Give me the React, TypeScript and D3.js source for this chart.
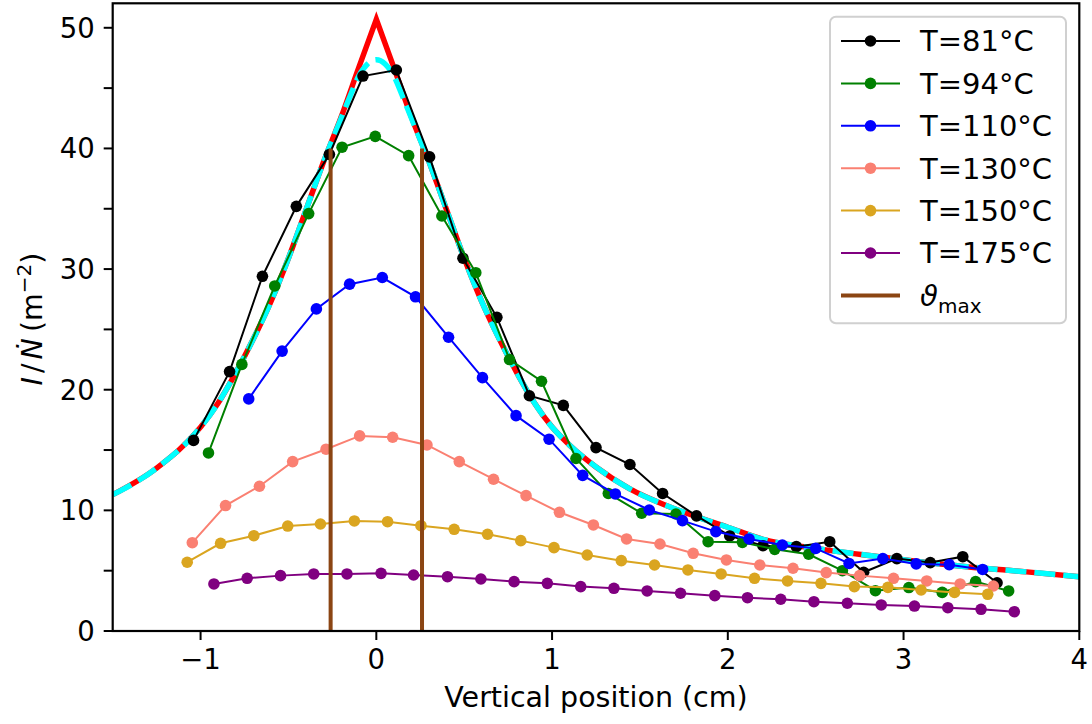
import React from 'react';
import * as d3 from 'd3';

const xTicks = [-1, 0, 1, 2, 3, 4];
const yTicks = [0, 5, 10, 15, 20, 25, 30, 35, 40, 45, 50];
const yTickLabels = [0, 10, 20, 30, 40, 50];

const x81 = [-1.04, -0.835, -0.648, -0.455, -0.267, -0.076, 0.114, 0.303, 0.493, 0.686, 0.871, 1.064, 1.25, 1.443, 1.629, 1.822, 2.011, 2.2, 2.39, 2.58, 2.773, 2.962, 3.152, 3.337, 3.532];
const y81 = [15.8, 21.5, 29.4, 35.2, 39.5, 46.0, 46.5, 39.3, 30.9, 26.0, 19.5, 18.7, 15.2, 13.8, 11.4, 9.54, 7.88, 7.07, 6.99, 7.4, 4.87, 6.0, 5.67, 6.16, 4.0];

const x94 = [-0.955, -0.765, -0.578, -0.385, -0.195, -0.006, 0.184, 0.373, 0.566, 0.758, 0.94, 1.136, 1.32, 1.51, 1.705, 1.888, 2.083, 2.267, 2.46, 2.652, 2.84, 3.03, 3.22, 3.41, 3.598];
const y94 = [14.76, 22.1, 28.6, 34.6, 40.1, 41.0, 39.4, 34.4, 29.7, 22.5, 20.7, 14.3, 11.4, 9.76, 9.7, 7.4, 7.35, 6.77, 6.36, 5.0, 3.34, 3.6, 3.2, 4.09, 3.32];

const x110 = [-0.726, -0.536, -0.341, -0.152, 0.034, 0.223, 0.411, 0.604, 0.795, 0.983, 1.174, 1.36, 1.553, 1.742, 1.932, 2.121, 2.31, 2.5, 2.69, 2.882, 3.072, 3.26, 3.45];
const y110 = [19.24, 23.2, 26.7, 28.75, 29.3, 27.7, 24.35, 21.0, 17.85, 15.9, 12.9, 11.36, 10.03, 9.15, 8.24, 7.63, 7.13, 6.85, 5.6, 6.0, 5.56, 5.5, 5.1];

const x130 = [-1.047, -0.858, -0.665, -0.476, -0.286, -0.095, 0.093, 0.288, 0.472, 0.667, 0.852, 1.042, 1.235, 1.424, 1.614, 1.803, 1.992, 2.182, 2.371, 2.56, 2.75, 2.943, 3.132, 3.322, 3.511];
const y130 = [7.32, 10.4, 12.0, 14.04, 15.07, 16.17, 16.06, 15.42, 14.04, 12.58, 11.22, 9.84, 8.79, 7.63, 7.21, 6.44, 5.89, 5.47, 5.2, 4.84, 4.59, 4.37, 4.15, 3.9, 3.73];

const x150 = [-1.076, -0.886, -0.697, -0.504, -0.318, -0.125, 0.064, 0.254, 0.443, 0.633, 0.822, 1.011, 1.2, 1.394, 1.583, 1.773, 1.962, 2.152, 2.34, 2.53, 2.72, 2.911, 3.1, 3.29, 3.479];
const y150 = [5.7, 7.27, 7.9, 8.7, 8.87, 9.12, 9.06, 8.73, 8.43, 8.02, 7.49, 6.91, 6.3, 5.83, 5.47, 5.06, 4.73, 4.37, 4.15, 3.95, 3.68, 3.62, 3.4, 3.2, 3.04];

const x175 = [-0.924, -0.735, -0.545, -0.356, -0.167, 0.027, 0.212, 0.405, 0.595, 0.784, 0.973, 1.163, 1.352, 1.541, 1.731, 1.926, 2.112, 2.301, 2.49, 2.68, 2.873, 3.062, 3.252, 3.441, 3.63];
const y175 = [3.9, 4.37, 4.59, 4.73, 4.73, 4.78, 4.64, 4.5, 4.31, 4.09, 3.95, 3.68, 3.54, 3.32, 3.13, 2.93, 2.76, 2.63, 2.43, 2.3, 2.16, 2.07, 1.93, 1.8, 1.6];

// red fitted model (cusp at 0): left and right halves
const redLeftX = [-1.5, -1.25, -1.0, -0.9, -0.8, -0.7, -0.6, -0.5, -0.4, -0.3, -0.2, -0.1, 0];
const redLeftY = [11.3, 13.5, 16.9, 18.9, 21.4, 24.2, 27.3, 30.9, 34.9, 38.9, 42.6, 46.7, 50.7];
const redRightX = [0, 0.1, 0.2, 0.3, 0.4, 0.5, 0.6, 0.7, 0.8, 0.9, 1.0, 1.1, 1.25, 1.44, 1.65, 1.82, 2.0, 2.2, 2.5, 2.86, 3.0, 3.36, 3.7, 4.0];
const redRightY = [50.7, 46.7, 42.6, 38.9, 34.9, 30.9, 27.3, 24.2, 21.4, 18.9, 16.9, 15.4, 13.6, 11.8, 10.4, 9.48, 8.6, 7.6, 6.85, 6.16, 5.9, 5.33, 4.9, 4.5];

// cyan dashed model (rounded top)
const cyanX = [-1.5, -1.25, -1.0, -0.9, -0.8, -0.7, -0.6, -0.5, -0.4, -0.3, -0.2, -0.15, -0.1, -0.05, 0, 0.05, 0.1, 0.15, 0.2, 0.3, 0.4, 0.5, 0.6, 0.7, 0.8, 0.9, 1.0, 1.1, 1.25, 1.44, 1.65, 1.82, 2.0, 2.2, 2.5, 2.86, 3.0, 3.36, 3.7, 4.0];
const cyanY = [11.3, 13.5, 16.9, 18.9, 21.4, 24.2, 27.3, 30.9, 34.9, 38.9, 42.5, 44.3, 46.0, 47.0, 47.35, 47.0, 46.0, 44.3, 42.5, 38.9, 34.9, 30.9, 27.3, 24.2, 21.4, 18.9, 16.9, 15.4, 13.6, 11.8, 10.4, 9.48, 8.6, 7.6, 6.85, 6.16, 5.9, 5.33, 4.9, 4.5];

const thetaMaxX = [-0.26, 0.26];
const thetaMaxTop = 40;

const seriesNames = ['T=81°C', 'T=94°C', 'T=110°C', 'T=130°C', 'T=150°C', 'T=175°C'];
const seriesColors = ['#000000', '#008000', '#0000ff', '#fa8072', '#daa520', '#800080'];
const seriesX = [x81, x94, x110, x130, x150, x175];
const seriesY = [y81, y94, y110, y130, y150, y175];

const FONT = 'DejaVu Sans, sans-serif';

export default function App() {
  const W = 1092, H = 724;
  const L = 112.7, R = 1079.3, T = 3.3, B = 631;
  const x = d3.scaleLinear().domain([-1.5, 4]).range([L, R]);
  const y = d3.scaleLinear().domain([0, 52.03]).range([B, T]);

  const lineM = d3.line<[number, number]>().x(d => x(d[0])).y(d => y(d[1])).curve(d3.curveMonotoneX);
  const lineL = d3.line<[number, number]>().x(d => x(d[0])).y(d => y(d[1]));

  const leftPath = lineM(redLeftX.map((v, i) => [v, redLeftY[i]] as [number, number])) || '';
  const rightPath = lineM(redRightX.map((v, i) => [v, redRightY[i]] as [number, number])) || '';
  const redPath = leftPath + 'L' + rightPath.slice(1);
  const cyanPath = lineM(cyanX.map((v, i) => [v, cyanY[i]] as [number, number])) || '';

  const legendY0 = 41, legendStep = 42.4;
  const fs = 27.5;
  const lfs = 29;
  const mr = 5.8;

  return (
    <svg width={W} height={H} style={{ position: 'absolute', left: 0, top: 0, background: '#fff' }} fontFamily={FONT}>
      <defs>
        <clipPath id="plotclip"><rect x={L} y={T} width={R - L} height={B - T} /></clipPath>
      </defs>
      <rect x={0} y={0} width={W} height={H} fill="#fff" />
      <g clipPath="url(#plotclip)">
        <path d={redPath} fill="none" stroke="#ff0000" strokeWidth={5.5} strokeLinejoin="miter" strokeMiterlimit={20} />
        <path d={cyanPath} fill="none" stroke="#00ffff" strokeWidth={5.5} strokeDasharray="21,8" />
        {seriesX.map((xs, si) => (
          <g key={si}>
            <path d={lineL(xs.map((v, i) => [v, seriesY[si][i]] as [number, number])) || ''} fill="none" stroke={seriesColors[si]} strokeWidth={2} />
            {xs.map((v, i) => (
              <circle key={i} cx={x(v)} cy={y(seriesY[si][i])} r={mr} fill={seriesColors[si]} />
            ))}
          </g>
        ))}
        {thetaMaxX.map((v, i) => (
          <line key={i} x1={x(v)} x2={x(v)} y1={y(0)} y2={y(thetaMaxTop)} stroke="#8b4513" strokeWidth={4} />
        ))}
      </g>
      {/* frame */}
      <rect x={L} y={T} width={R - L} height={B - T} fill="none" stroke="#000" strokeWidth={2.2} />
      {/* x ticks */}
      {xTicks.map(t => (
        <g key={t}>
          <line x1={x(t)} x2={x(t)} y1={B} y2={B + 9} stroke="#000" strokeWidth={2} />
          <text x={x(t)} y={B + 38} textAnchor="middle" fontSize={fs} fill="#000">{t < 0 ? '\u2212' + Math.abs(t) : String(t)}</text>
        </g>
      ))}
      {/* y ticks */}
      {yTicks.map(t => (
        <g key={t}>
          <line x1={L - 9} x2={L} y1={y(t)} y2={y(t)} stroke="#000" strokeWidth={2} />
        </g>
      ))}
      {yTickLabels.map(t => (
        <text key={t} x={L - 18} y={y(t)} dy="0.36em" textAnchor="end" fontSize={fs} fill="#000">{t}</text>
      ))}
      {/* axis labels */}
      <text x={(L + R) / 2} y={707} textAnchor="middle" fontSize={28.5} fill="#000">Vertical position (cm)</text>
      <text transform="translate(42,319) rotate(-90)" textAnchor="middle" fontSize={28.5} fill="#000">
        <tspan fontStyle="italic">I</tspan>
        <tspan dx="4">/</tspan>
        <tspan dx="4" fontStyle="italic">{'\u1E44'}</tspan>
        <tspan dx="6">(m</tspan>
        <tspan dy="-11" fontSize={20}>{'\u22122'}</tspan>
        <tspan dy="11">)</tspan>
      </text>
      {/* legend */}
      <rect x={830} y={16.7} width={236} height={306.6} rx={6} ry={6} fill="#fff" fillOpacity={0.8} stroke="#d0d0d0" strokeWidth={2} />
      {seriesNames.map((n, i) => {
        const ly = legendY0 + i * legendStep;
        return (
          <g key={n}>
            <line x1={841} x2={900} y1={ly} y2={ly} stroke={seriesColors[i]} strokeWidth={2} />
            <circle cx={870.5} cy={ly} r={mr} fill={seriesColors[i]} />
            <text x={920} y={ly} dy="0.36em" fontSize={lfs} fill="#000">{n}</text>
          </g>
        );
      })}
      {(() => {
        const ly = legendY0 + 6 * legendStep;
        return (
          <g>
            <line x1={841} x2={900} y1={ly} y2={ly} stroke="#8b4513" strokeWidth={4} />
            <text x={920} y={ly} dy="0.36em" fontSize={lfs} fill="#000">
              <tspan fontStyle="italic">{'\u03D1'}</tspan>
              <tspan dy="7" fontSize={20}>max</tspan>
            </text>
          </g>
        );
      })()}
    </svg>
  );
}
